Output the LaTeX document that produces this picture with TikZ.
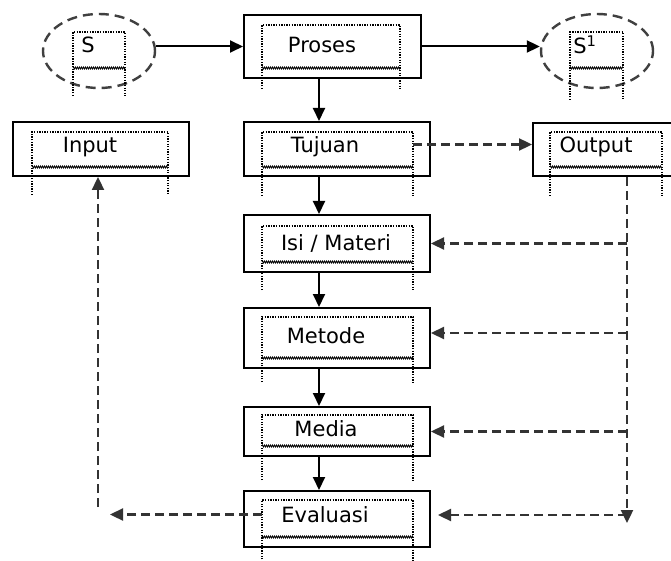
\documentclass[tikz,border=0pt]{standalone}
\usepackage{fontspec}
\setmainfont{DejaVu Sans}
\usetikzlibrary{shapes.geometric,arrows.meta,decorations.pathmorphing}

\tikzset{
  kotak/.style={draw, line width=2pt, inner sep=0pt},
  elips/.style={ellipse, draw=black!75, dash pattern=on 10pt off 6pt, line width=2.4pt,
                minimum width=112pt, minimum height=74pt, inner sep=0pt},
  teks/.style={font=\fontsize{21}{25}\selectfont, inner sep=0pt},
  titik/.style={dash pattern=on 1.3pt off 1.3pt, line width=1.3pt},
  gelombang/.style={line width=0.8pt, decorate,
                    decoration={zigzag, segment length=2pt, amplitude=1pt}},
  panah/.style={line width=2pt, -{Triangle[length=13pt,width=12pt]}},
  putus/.style={panah, draw=black!80, line width=2.3pt, dash pattern=on 9pt off 5pt},
}

% bingkai titik-titik di dalam kotak: nama, kiri, kanan, atas, garis bawah, ujung kaki
\newcommand\bingkai[6]{%
  \draw[titik] (#2,#6) -- (#2,#4) -- (#3,#4) -- (#3,#6);
  \draw[gelombang] (#2,#5) -- (#3,#5);
  \coordinate (#1-kiri) at (#2,{(#4+#5)/2});
  \coordinate (#1-kanan) at (#3,{(#4+#5)/2});
}

\begin{document}
\begin{tikzpicture}[x=1pt,y=-1pt]
\useasboundingbox (0,0) rectangle (671,561);
\clip (0,0) rectangle (671,561);
%
% Keadaan awal dan akhir
\node[elips] (S)  at ( 99,51) {};
\node[elips] (S1) at (597,51) {};
\bingkai{S}{73}{125}{32}{68}{96}
\bingkai{S1}{570}{623}{32}{68}{100}
\node[teks] (tS)  at ( 88,45) {S};
\node[teks] (tS1) at (585,45) {S\textsuperscript{1}};
%
% Kotak proses
\node[kotak, minimum width=177pt, minimum height=63pt] (Proses)   at (332.5, 46.5) {};
\node[kotak, minimum width=176pt, minimum height=54pt] (Input)    at (101,149) {};
\node[kotak, minimum width=186pt, minimum height=54pt] (Tujuan)   at (337,149) {};
\node[kotak, minimum width=146pt, minimum height=53pt] (Output)   at (606,149.5) {};
\node[kotak, minimum width=186pt, minimum height=57pt] (Isi)      at (337,243.5) {};
\node[kotak, minimum width=186pt, minimum height=60pt] (Metode)   at (337,338) {};
\node[kotak, minimum width=186pt, minimum height=49pt] (Media)    at (337,431.5) {};
\node[kotak, minimum width=186pt, minimum height=56pt] (Evaluasi) at (337,519) {};
%
% Bingkai dalam
\bingkai{Proses}{262}{400}{25}{68}{89}
\bingkai{Input}{32}{168}{132}{167}{195}
\bingkai{Tujuan}{262}{413}{132}{167}{196}
\bingkai{Output}{550}{662}{132}{167}{196}
\bingkai{Isi}{262}{413}{226}{262}{290}
\bingkai{Metode}{262}{413}{317}{358}{382}
\bingkai{Media}{262}{413}{415}{446}{480}
\bingkai{Evaluasi}{262}{413}{500}{537}{562}
%
% Teks
\node[teks] (tProses)   at (322,45)  {Proses};
\node[teks] (tInput)    at ( 90,147) {Input};
\node[teks] (tTujuan)   at (325,147) {Tujuan};
\node[teks] (tOutput)   at (596,147) {Output};
\node[teks] (tIsi)      at (336,243) {Isi / Materi};
\node[teks] (tMetode)   at (326,336) {Metode};
\node[teks] (tMedia)    at (326,429) {Media};
\node[teks] (tEvaluasi) at (325,515) {Evaluasi};
%
% Alur utama
\coordinate (sumbu) at (319,0);
\draw[panah] (S.east |- Proses.west) -- (Proses.west);
\draw[panah] (Proses.east) -- (S1.west |- Proses.east);
\foreach \a/\b in {Proses/Tujuan, Tujuan/Isi, Isi/Metode, Metode/Media, Media/Evaluasi}
  \draw[panah] (\a.south -| sumbu) -- (\b.north -| sumbu);
%
% Umpan balik (putus-putus)
\coordinate (kanan) at (627,0);
\coordinate (ujung) at (110,0);
\coordinate (balik) at (98,507);
\draw[putus] ([yshift=5pt]Tujuan-kanan) -- ([yshift=5pt]Tujuan-kanan -| Output.west);
\draw[putus] (Output.south -| kanan) -- ([yshift=-4pt]kanan |- Evaluasi.east);
\foreach \b in {Isi, Media}
  \draw[putus] (kanan |- \b.east) -- (\b.east);
\draw[putus] ([yshift=5pt]kanan |- Metode.east) -- ([yshift=5pt]Metode.east);
\draw[putus, shorten >=7pt] ([yshift=4pt]kanan |- Evaluasi.east) -- ([yshift=4pt]Evaluasi.east);
\draw[putus] ([yshift=4pt]Evaluasi-kiri) -- ([yshift=4pt]Evaluasi-kiri -| ujung);
\draw[putus] (balik) -- (balik |- Input.south);
%
\end{tikzpicture}
\end{document}
